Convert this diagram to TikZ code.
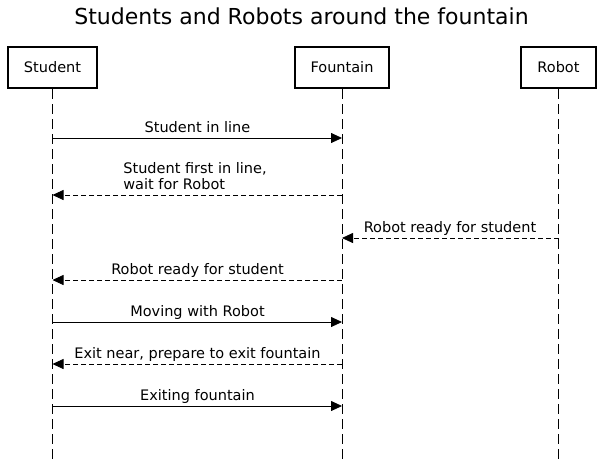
\documentclass[tikz,border=0pt]{standalone}
\usepackage{fontspec}
\setmainfont{DejaVu Sans}
\usetikzlibrary{arrows.meta}
\begin{document}
\begin{tikzpicture}[x=1pt,y=-1pt,
  actor/.style={draw,line width=2pt,minimum height=41pt,inner sep=0pt,font=\fontsize{14.5}{17}\selectfont},
  lifeline/.style={line width=0.8pt,dash pattern=on 10pt off 5pt},
  msg/.style={line width=0.8pt,-{Triangle[length=11pt,width=10pt]}},
  reply/.style={msg,dash pattern=on 5pt off 3pt},
  lbl/.style={font=\fontsize{14.5}{16}\selectfont,inner sep=0pt,anchor=base}]
\useasboundingbox (0,0) rectangle (603,459);
\node[font=\fontsize{22}{26}\selectfont] (title) at (301.5,16) {Students and Robots around the fountain};
% participants
\node[actor,minimum width=89pt] (student) at (52.5,67.5) {Student};
\node[actor,minimum width=94pt] (fountain) at (342,67.5) {Fountain};
\node[actor,minimum width=75pt] (robot) at (558.5,67.5) {Robot};
% lifeline ends
\coordinate (sEnd) at (52.5,459);
\coordinate (fEnd) at (342,459);
\coordinate (rEnd) at (558.5,459);
\draw[lifeline] (student.south) -- (sEnd);
\draw[lifeline] (fountain.south) -- (fEnd);
\draw[lifeline] (robot.south) -- (rEnd);
% message anchors on the lifelines
\foreach \n/\y in {1/138,2/195,3/238,4/280,5/322,6/364,7/406}{
  \coordinate (s\n) at (52.5,\y);
  \coordinate (f\n) at (342,\y);
  \coordinate (r\n) at (558.5,\y);
}
\draw[msg] (s1) -- (f1);
\node[lbl] (m1) at (197.5,132) {Student in line};
\draw[reply] (f2) -- (s2);
\node[lbl,align=left,anchor=south] (m2) at (195,190) {Student first in line,\\wait for Robot};
\draw[reply] (r3) -- (f3);
\node[lbl] (m3) at (450,232) {Robot ready for student};
\draw[reply] (f4) -- (s4);
\node[lbl] (m4) at (197.5,274) {Robot ready for student};
\draw[msg] (s5) -- (f5);
\node[lbl] (m5) at (197.5,316) {Moving with Robot};
\draw[reply] (f6) -- (s6);
\node[lbl] (m6) at (197.5,358) {Exit near, prepare to exit fountain};
\draw[msg] (s7) -- (f7);
\node[lbl] (m7) at (197.5,400) {Exiting fountain};
\end{tikzpicture}
\end{document}
